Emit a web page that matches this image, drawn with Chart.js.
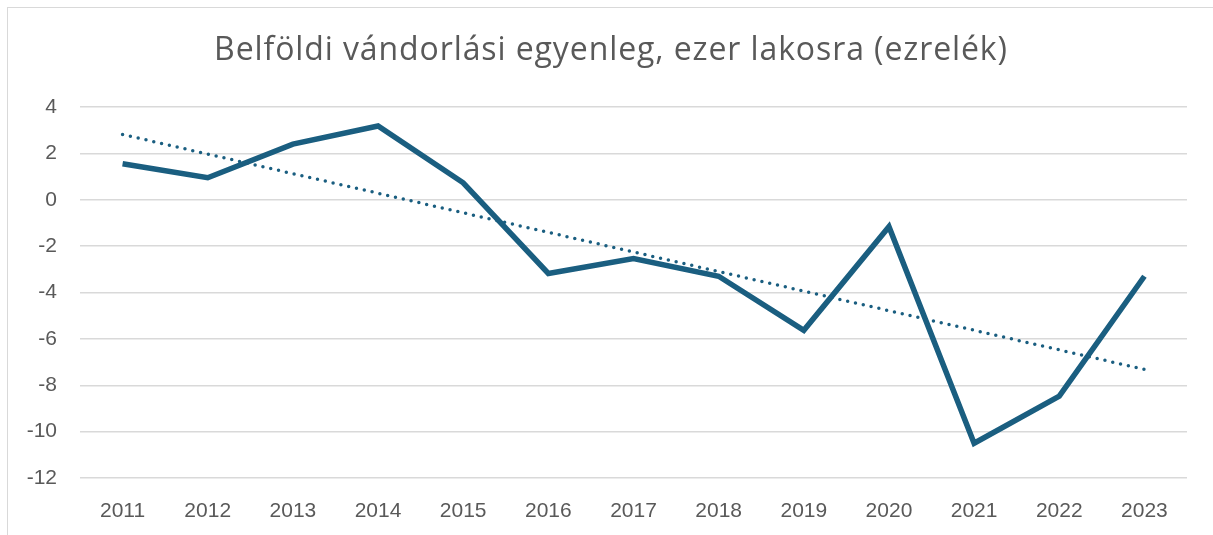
<!DOCTYPE html>
<html lang="hu">
<head>
  <meta charset="UTF-8">
  <title>Belföldi vándorlási egyenleg</title>
  <script src="https://cdn.jsdelivr.net/npm/chart.js"></script>
  <style>
    html, body {
      margin: 0;
      padding: 0;
      background: #fff;
      overflow: hidden;
    }
    .frame {
      position: absolute;
      left: 7px;
      top: 7px;
      width: 1300px;
      height: 600px;
      border: 1.5px solid #d9d9d9;
    }
    #chart {
      position: absolute;
      left: 0;
      top: 0;
    }
  </style>
</head>
<body>
  <div class="frame"></div>
  <canvas id="chart" width="1213" height="535"></canvas>
  <script>
    const years = ['2011', '2012', '2013', '2014', '2015', '2016', '2017', '2018', '2019', '2020', '2021', '2022', '2023'];
    const balance = [1.55, 0.95, 2.4, 3.18, 0.73, -3.18, -2.54, -3.3, -5.63, -1.16, -10.5, -8.47, -3.3];
    const yTicks = { min: -12, max: 4, step: 2 };
    const titleText = 'Belföldi vándorlási egyenleg, ezer lakosra (ezrelék)';

    // linear trend (least squares) over the yearly values
    const n = balance.length;
    const meanX = (n - 1) / 2;
    const meanY = balance.reduce((s, v) => s + v, 0) / n;
    let sxy = 0, sxx = 0;
    balance.forEach((v, i) => {
      sxy += (i - meanX) * (v - meanY);
      sxx += (i - meanX) * (i - meanX);
    });
    const slope = sxy / sxx;
    const trend = balance.map((v, i) => meanY + slope * (i - meanX));

    const lineColor = '#1a5e80';
    const textColor = '#595959';
    const titleFont = '"Open Sans", sans-serif';
    const tickFont = '"Liberation Sans", Arial, sans-serif';

    // title drawn by hand so the letter spacing can be widened
    const titlePlugin = {
      id: 'wideTitle',
      afterDraw(chart) {
        const ctx = chart.ctx;
        ctx.save();
        ctx.font = '32px ' + titleFont;
        ctx.fillStyle = textColor;
        ctx.textAlign = 'center';
        ctx.textBaseline = 'alphabetic';
        ctx.letterSpacing = '0.9px';
        ctx.fillText(titleText, 611, 60);
        ctx.restore();
      }
    };

    new Chart(document.getElementById('chart').getContext('2d'), {
      type: 'line',
      data: {
        labels: years,
        datasets: [
          {
            label: 'Egyenleg',
            data: balance,
            borderColor: lineColor,
            borderWidth: 5.5,
            pointRadius: 0,
            tension: 0
          },
          {
            label: 'Trend',
            data: trend,
            borderColor: lineColor,
            borderWidth: 3.5,
            borderDash: [0, 8],
            borderCapStyle: 'round',
            pointRadius: 0,
            tension: 0
          }
        ]
      },
      options: {
        responsive: false,
        animation: false,
        layout: { padding: { left: 0, right: 26, top: 107, bottom: 0 } },
        plugins: {
          legend: { display: false },
          tooltip: { enabled: false },
          title: { display: false }
        },
        scales: {
          x: {
            offset: true,
            grid: { display: false, drawTicks: false },
            border: { display: false },
            ticks: { color: textColor, font: { family: tickFont, size: 21 }, padding: 21 },
            afterFit: (scale) => { scale.height = 57; }
          },
          y: {
            min: yTicks.min,
            max: yTicks.max,
            grid: { color: '#d9d9d9', lineWidth: 1.5, drawTicks: false },
            border: { display: false },
            ticks: { stepSize: yTicks.step, color: textColor, font: { family: tickFont, size: 21 }, padding: 23 },
            afterFit: (scale) => { scale.width = 80; }
          }
        }
      },
      plugins: [titlePlugin]
    });
  </script>
</body>
</html>
